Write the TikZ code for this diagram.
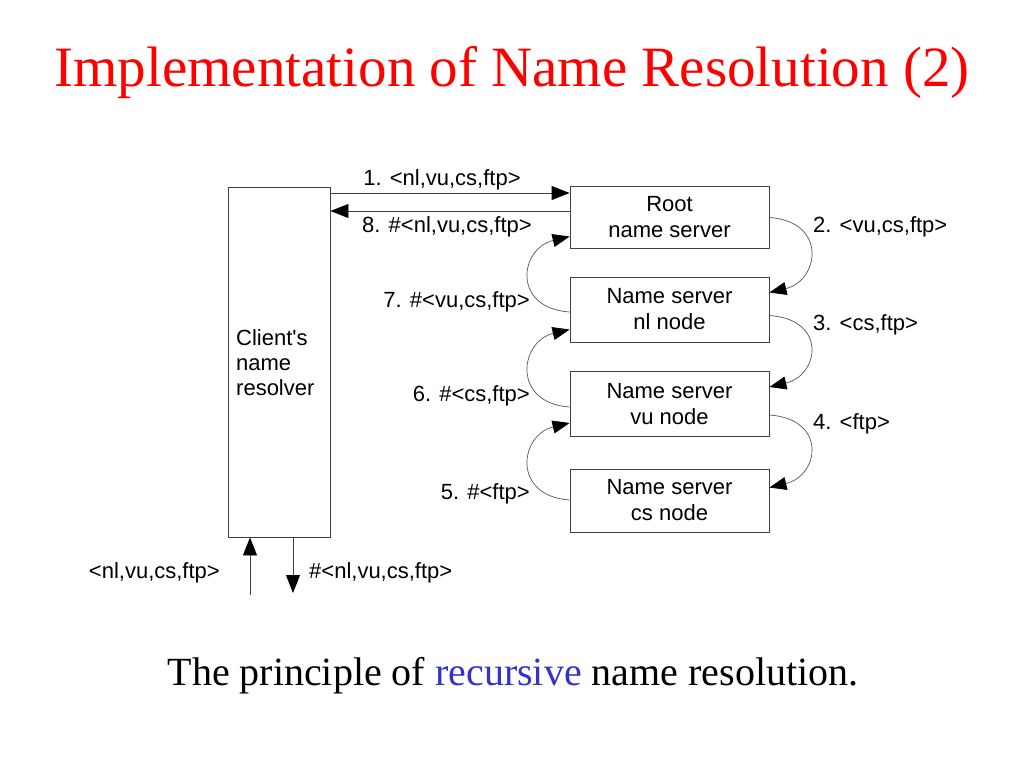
\documentclass[tikz,border=0pt]{standalone}
\usepackage{fontspec}
\setmainfont{Liberation Serif}
\newfontfamily\arialf{Liberation Sans}
\usetikzlibrary{arrows.meta}
\definecolor{boxgray}{HTML}{404040}
\definecolor{curvegray}{HTML}{555555}
\definecolor{capblue}{HTML}{3333CC}
\begin{document}
\begin{tikzpicture}[x=1pt,y=-1pt,
  srv/.style={draw=boxgray, line width=0.9pt, minimum width=199pt, inner sep=0pt, align=center,
    font=\arialf\fontsize{22}{26}\selectfont},
  lbl/.style={inner sep=0pt, font=\arialf\fontsize{22}{26}\selectfont},
  arr/.style={draw=boxgray, line width=0.9pt, -{Triangle[length=18pt,width=14pt,color=black]}},
  carr/.style={draw=curvegray, line width=0.7pt, -{Triangle[length=17pt,width=13pt,color=black]}}]
\useasboundingbox (0,0) rectangle (1024,768);
\fill[white] (0,0) rectangle (1024,768);
% title
\node[anchor=base, inner sep=0pt, text=red, font=\fontsize{57}{60}\selectfont] (title) at (512,86) {Implementation of Name Resolution (2)};
% boxes
\node[srv, minimum width=102pt, minimum height=350pt] (client) at (279,362) {};
\node[lbl, align=left, anchor=north west, font=\arialf\fontsize{22}{25}\selectfont] (clienttxt) at (236,329) {Client's\\name\\resolver};
\node[srv, minimum height=62pt] (root) at (669.5,217.5) {Root\\name server};
\node[srv, minimum height=65pt] (nl) at (669.5,309.5) {Name server\\nl node};
\node[srv, minimum height=65pt] (vu) at (669.5,404) {Name server\\vu node};
\node[srv, minimum height=63pt] (cs) at (669.5,500.5) {Name server\\cs node};
% top arrows
\coordinate (r1) at ([yshift=24.5pt]root.west);
\coordinate (r8) at ([yshift=6.5pt]root.west);
\draw[arr] (r1 -| client.east) -- (r1);
\draw[arr] (r8) -- (r8 -| client.east);
\node[lbl] (l1) at (442,180) {1. <nl,vu,cs,ftp>};
\node[lbl] (l8) at (447,227) {8. \#<nl,vu,cs,ftp>};
% right curves
\draw[carr] (root.east) .. controls +(58,4) and +(50,-12) .. ([yshift=17pt]nl.east);
\draw[carr] ([yshift=-6pt]nl.east) .. controls +(58,4) and +(50,-12) .. ([yshift=17pt]vu.east);
\draw[carr] ([yshift=-11pt]vu.east) .. controls +(58,4) and +(50,-12) .. ([yshift=13pt]cs.east);
\node[lbl, anchor=west] (l2) at (813,227) {2. <vu,cs,ftp>};
\node[lbl, anchor=west] (l3) at (813,325) {3. <cs,ftp>};
\node[lbl, anchor=west] (l4) at (813,424) {4. <ftp>};
% left curves
\draw[carr] ([yshift=-2.5pt]nl.west) .. controls +(-58,-4) and +(-50,12) .. ([yshift=-19pt]root.west);
\draw[carr] ([yshift=-3pt]vu.west) .. controls +(-58,-4) and +(-50,12) .. ([yshift=-20pt]nl.west);
\draw[carr] ([yshift=0.5pt]cs.west) .. controls +(-58,-4) and +(-50,12) .. ([yshift=-19pt]vu.west);
\node[lbl, anchor=east] (l7) at (530,302) {7. \#<vu,cs,ftp>};
\node[lbl, anchor=east] (l6) at (530,396) {6. \#<cs,ftp>};
\node[lbl, anchor=east] (l5) at (530,494) {5. \#<ftp>};
% bottom arrows
\coordinate (bin) at (250,595);
\coordinate (bout) at (293,593);
\draw[arr] (bin) -- (bin |- client.south);
\draw[arr] (bout |- client.south) -- (bout);
\node[lbl, anchor=east] (lin) at (220,573) {<nl,vu,cs,ftp>};
\node[lbl, anchor=west] (lout) at (309,573) {\#<nl,vu,cs,ftp>};
% caption
\node[anchor=base, inner sep=0pt, font=\fontsize{40}{44}\selectfont] (caption) at (513,685) {The principle of \textcolor{capblue}{recursive} name resolution.};
\end{tikzpicture}
\end{document}
